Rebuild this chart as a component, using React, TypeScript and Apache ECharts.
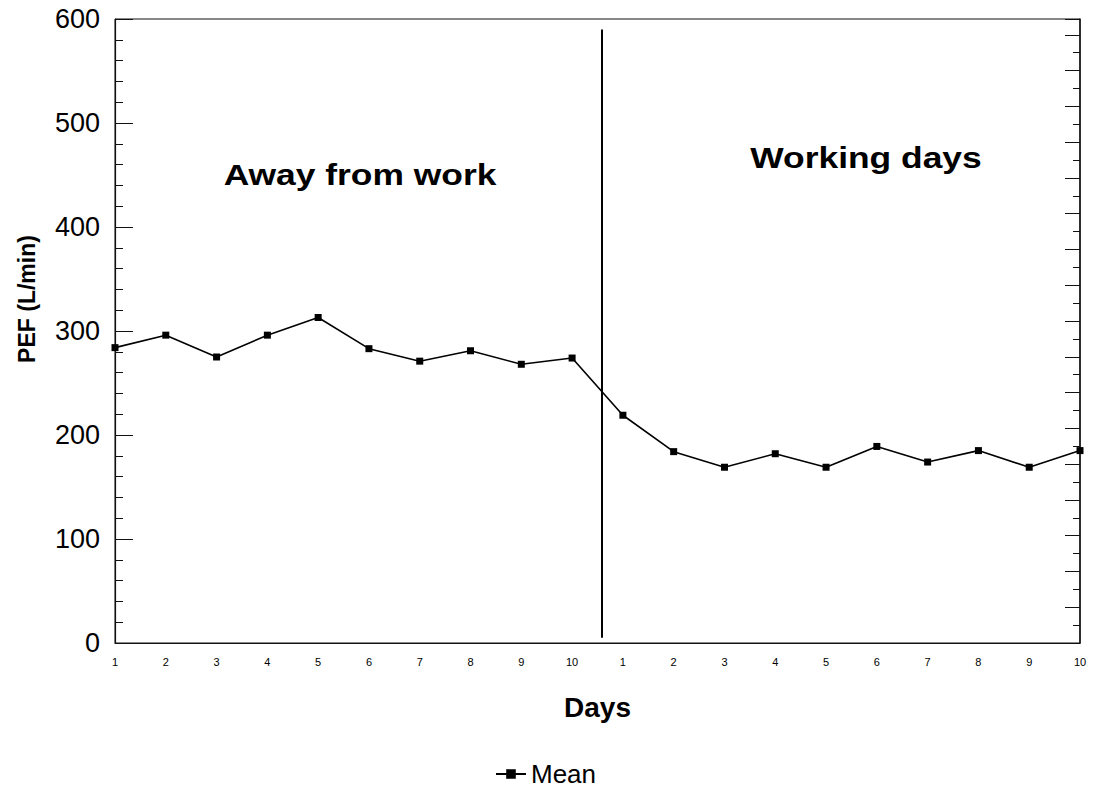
import React, { useEffect, useRef } from "react";
import * as echarts from "echarts";

// Mean peak expiratory flow (L/min) per day
const dayLabels = ["1", "2", "3", "4", "5", "6", "7", "8", "9", "10"];
const awayValues = [284, 296, 275, 296, 313, 283, 271, 281, 268, 274];
const workValues = [219, 184, 169, 182, 169, 189, 174, 185, 169, 185];
const seriesName = "Mean";
const periodTitles = ["Away from work", "Working days"];
// position of the divider between the two periods, on the day-index scale
const dividerX = 9.58;
const dividerSpan = [5, 590];

const FONT = "'Liberation Sans', Arial, Helvetica, sans-serif";

export default function App() {
  const ref = useRef<HTMLDivElement>(null);

  useEffect(() => {
    document.body.style.margin = "0";
    if (!ref.current) return;
    const chart = echarts.init(ref.current, null, { renderer: "svg" });

    const allLabels = [...dayLabels, ...dayLabels];
    const allValues = [...awayValues, ...workValues];
    const points = allValues.map((v, i) => [i, v]);

    chart.setOption({
      animation: false,
      textStyle: { fontFamily: FONT, color: "#000" },
      grid: {
        left: 115,
        right: 15,
        top: 19,
        bottom: 146,
        show: true,
        borderColor: "#111",
        borderWidth: 1,
        containLabel: false,
      },
      xAxis: {
        type: "value",
        min: 0,
        max: allLabels.length - 1,
        interval: 1,
        axisLine: { show: true, lineStyle: { color: "#111", width: 1.2 } },
        axisTick: { show: false },
        splitLine: { show: false },
        axisLabel: {
          fontSize: 11,
          color: "#000",
          margin: 13,
          formatter: (v: number) => allLabels[Math.round(v)] ?? "",
        },
        name: "Days",
        nameLocation: "middle",
        nameGap: 50,
        nameTextStyle: { fontSize: 28, fontWeight: "bold", color: "#000", fontFamily: FONT },
      },
      yAxis: [
        {
          type: "value",
          min: 0,
          max: 600,
          interval: 100,
          axisLine: { show: true, lineStyle: { color: "#111", width: 1.2 } },
          axisTick: { show: true, inside: true, length: 18, lineStyle: { color: "#111" } },
          minorTick: { show: true, splitNumber: 5, length: 8, lineStyle: { color: "#111" } },
          splitLine: { show: false },
          axisLabel: { fontSize: 27, color: "#000", margin: 15 },
          name: "PEF (L/min)",
          nameLocation: "middle",
          nameRotate: 90,
          nameGap: 77,
          nameTextStyle: {
            fontSize: 23,
            fontWeight: "bold",
            color: "#000",
            fontFamily: FONT,
            padding: [0, 0, 0, 64],
          },
        },
        {
          type: "value",
          position: "right",
          min: 0,
          max: 600,
          interval: 34.4,
          axisLine: { show: true, lineStyle: { color: "#111", width: 1.5 } },
          axisTick: { show: true, inside: true, length: 15, lineStyle: { color: "#111" } },
          minorTick: { show: true, splitNumber: 2, length: 7, lineStyle: { color: "#111" } },
          splitLine: { show: false },
          axisLabel: { show: false },
        },
      ],
      legend: {
        data: [seriesName],
        left: 490,
        top: 756,
        itemWidth: 30,
        itemHeight: 12,
        textStyle: { fontSize: 26, color: "#000", fontFamily: FONT },
      },
      graphic: [
        {
          type: "text",
          x: 360,
          y: 174,
          scaleX: 1.18,
          style: {
            text: periodTitles[0],
            fontSize: 30,
            fontWeight: "bold",
            fontFamily: FONT,
            fill: "#000",
            textAlign: "center",
            textVerticalAlign: "middle",
          },
        },
        {
          type: "text",
          x: 866,
          y: 157,
          scaleX: 1.18,
          style: {
            text: periodTitles[1],
            fontSize: 30,
            fontWeight: "bold",
            fontFamily: FONT,
            fill: "#000",
            textAlign: "center",
            textVerticalAlign: "middle",
          },
        },
      ],
      series: [
        {
          name: seriesName,
          type: "line",
          data: points,
          symbol: "rect",
          symbolSize: 7,
          color: "#000",
          lineStyle: { color: "#000", width: 1.6 },
          itemStyle: { color: "#000" },
          markLine: {
            silent: true,
            symbol: "none",
            label: { show: false },
            lineStyle: { color: "#000", width: 2, type: "solid" },
            data: [
              [
                { coord: [dividerX, dividerSpan[0]] },
                { coord: [dividerX, dividerSpan[1]] },
              ],
            ],
          },
        },
      ],
    });

    return () => chart.dispose();
  }, []);

  return <div ref={ref} style={{ width: 1095, height: 789 }} />;
}
